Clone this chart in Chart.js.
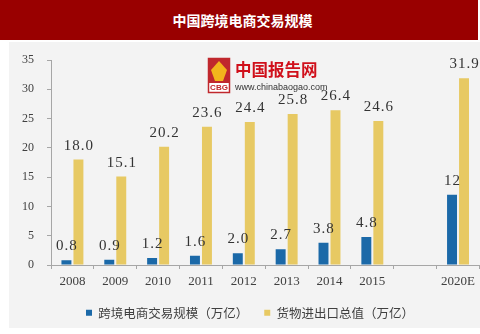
<!DOCTYPE html>
<html>
<head>
<meta charset="utf-8">
<script src="https://cdn.jsdelivr.net/npm/chart.js@4.4.1/dist/chart.umd.min.js"></script>
<style>
  html, body { margin: 0; padding: 0; background: #fff; }
  #wrap { position: relative; width: 480px; height: 334px; overflow: hidden; }
  #titleBar {
    position: absolute; left: 0; top: 0; width: 478px; height: 40px;
    background: #990000; color: #fff; text-align: center;
    font: bold 14px "Noto Sans CJK SC", sans-serif; line-height: 40px;
    box-sizing: border-box; padding-left: 7px;
  }
  #panel { position: absolute; left: 9px; top: 42px; width: 471px; height: 286px; background: #f3f3f3; }
  #chart { position: absolute; left: 0; top: 0; }
</style>
</head>
<body>
<div id="wrap">
  <div id="titleBar">中国跨境电商交易规模</div>
  <div id="panel"></div>
  <canvas id="chart" width="480" height="334"></canvas>
</div>
<script>
// ===== データ =====
const years = ['2008', '2009', '2010', '2011', '2012', '2013', '2014', '2015', '', '2020E'];
// 表示どおりの文字列で保持（空欄は null）
const ecommerceText = ['0.8', '0.9', '1.2', '1.6', '2.0', '2.7', '3.8', '4.8', null, '12'];
const tradeText = ['18.0', '15.1', '20.2', '23.6', '24.4', '25.8', '26.4', '24.6', null, '31.9'];
const seriesNames = ['跨境电商交易规模（万亿）', '货物进出口总值（万亿）'];
const yTicks = [0, 5, 10, 15, 20, 25, 30, 35];

const toNum = arr => arr.map(v => (v === null ? null : Number(v)));

const BLUE = '#1b69a8';
const GOLD = '#e7c963';
const TEXT = '#404040';
const AXIS = '#a6a6a6';

// ===== 数値ラベル =====
const valueLabels = {
  id: 'valueLabels',
  afterDatasetsDraw(chart) {
    const ctx = chart.ctx;
    const texts = [ecommerceText, tradeText];
    ctx.save();
    ctx.font = '15px "Liberation Serif", serif';
    ctx.letterSpacing = '1px';
    ctx.fillStyle = '#333';
    ctx.textAlign = 'center';
    ctx.textBaseline = 'alphabetic';
    chart.data.datasets.forEach((ds, di) => {
      chart.getDatasetMeta(di).data.forEach((bar, i) => {
        const t = texts[di][i];
        if (t === null) return;
        ctx.fillText(t, bar.x + 0.5, bar.y - 10);
      });
    });
    ctx.restore();
  }
};

// ===== ウォーターマーク（ロゴ） =====
const watermark = {
  id: 'watermark',
  beforeDatasetsDraw(chart) {
    const ctx = chart.ctx;
    ctx.save();
    // ロゴ枠
    ctx.fillStyle = '#fff';
    ctx.fillRect(208, 58, 22, 35);
    ctx.strokeStyle = '#c0282d';
    ctx.lineWidth = 1.5;
    ctx.strokeRect(208.5, 58.5, 21, 34);
    ctx.fillStyle = '#c0282d';
    ctx.fillRect(209, 59, 20, 24);
    ctx.fillStyle = '#f2b51c';
    ctx.beginPath();
    ctx.moveTo(219, 61);
    ctx.lineTo(227, 70);
    ctx.lineTo(223, 81);
    ctx.lineTo(215, 81);
    ctx.lineTo(211, 70);
    ctx.closePath();
    ctx.fill();
    ctx.fillStyle = '#c0282d';
    ctx.font = 'bold 8px "Liberation Sans", sans-serif';
    ctx.textAlign = 'center';
    ctx.textBaseline = 'middle';
    ctx.fillText('CBG', 219, 88);
    // 文字
    ctx.textAlign = 'left';
    ctx.fillStyle = '#d0101b';
    ctx.font = 'bold 16.5px "Noto Sans CJK SC", sans-serif';
    ctx.fillText('中国报告网', 235, 70);
    ctx.fillStyle = '#333';
    ctx.font = '9px "Liberation Sans", sans-serif';
    ctx.fillText('www.chinabaogao.com', 235, 88);
    ctx.restore();
  }
};

// ===== グラフ =====
new Chart(document.getElementById('chart'), {
  type: 'bar',
  data: {
    labels: years,
    datasets: [
      {
        label: seriesNames[0],
        data: toNum(ecommerceText),
        backgroundColor: BLUE,
        categoryPercentage: 0.56,
        barPercentage: 0.83
      },
      {
        label: seriesNames[1],
        data: toNum(tradeText),
        backgroundColor: GOLD,
        categoryPercentage: 0.56,
        barPercentage: 0.83
      }
    ]
  },
  options: {
    responsive: false,
    animation: false,
    events: [],
    layout: { padding: { left: 20, right: 0, top: 60, bottom: 5 } },
    plugins: {
      legend: {
        position: 'bottom',
        labels: {
          color: TEXT,
          font: { family: "'Noto Sans CJK SC', sans-serif", size: 12.5 },
          boxWidth: 6,
          boxHeight: 6,
          padding: 16
        }
      },
      tooltip: { enabled: false }
    },
    scales: {
      x: {
        offset: true,
        grid: {
          offset: true,
          drawOnChartArea: false,
          drawTicks: true,
          tickLength: 4,
          color: AXIS
        },
        border: { display: true, color: AXIS },
        ticks: {
          color: TEXT,
          font: { family: "'Liberation Serif', serif", size: 13 },
          padding: 5,
          maxRotation: 0,
          autoSkip: false
        },
        afterFit: s => { s.height = 25.5; }
      },
      y: {
        min: 0,
        max: 35,
        afterBuildTicks: s => { s.ticks = yTicks.map(v => ({ value: v })); },
        grid: {
          drawOnChartArea: false,
          drawTicks: true,
          tickLength: 4,
          color: AXIS
        },
        border: { display: true, color: AXIS },
        ticks: {
          color: TEXT,
          font: { family: "'Liberation Serif', serif", size: 12 },
          padding: 13
        },
        afterFit: s => { s.width = 31; }
      }
    }
  },
  plugins: [watermark, valueLabels]
});
</script>
</body>
</html>
